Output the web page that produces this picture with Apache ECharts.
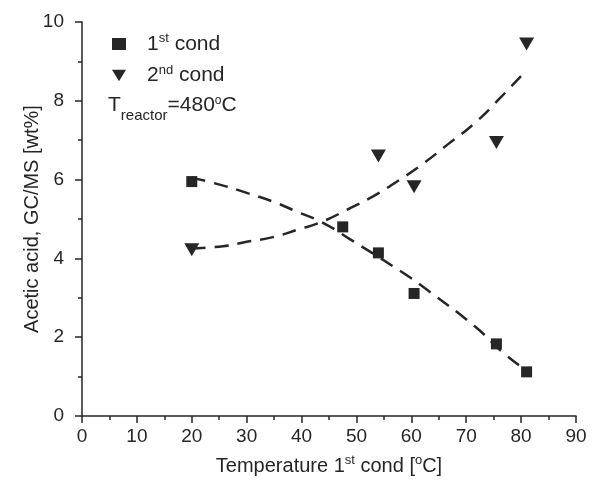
<!DOCTYPE html>
<html>
<head>
<meta charset="utf-8">
<script src="https://cdn.jsdelivr.net/npm/echarts@6/dist/echarts.min.js"></script>
<style>html,body{margin:0;padding:0;background:#fff}#c{width:596px;height:498px}</style>
</head>
<body>
<div id="c"></div>
<script>
// Measured data: 1st condenser (squares)
const cond1X = [20, 47.5, 54, 60.5, 75.5, 81];
const cond1Y = [5.95, 4.8, 4.14, 3.11, 1.83, 1.12];
// 2nd condenser (down triangles)
const cond2X = [20, 54, 60.5, 75.5, 81];
const cond2Y = [4.22, 6.6, 5.82, 6.94, 9.44];
// Dashed trend curves
const fit1X = [20, 25.4, 30.3, 35.2, 39.4, 43.7, 48.8, 58.2, 62.5, 71.6, 76.7, 81];
const fit1Y = [6.05, 5.86, 5.65, 5.42, 5.17, 4.92, 4.49, 3.66, 3.24, 2.27, 1.61, 1.15];
const fit2X = [20, 25.7, 30, 34.8, 39.1, 43.7, 48.2, 53.1, 57.6, 62.2, 66.7, 71.6, 76.1, 81];
const fit2Y = [4.25, 4.31, 4.42, 4.54, 4.72, 4.93, 5.23, 5.58, 5.97, 6.41, 6.9, 7.44, 8.06, 8.78];
// Axis ticks
const xTicks = [0, 10, 20, 30, 40, 50, 60, 70, 80, 90];
const yTicks = [0, 2, 4, 6, 8, 10];

const pair = (xs, ys) => xs.map((x, i) => [x, ys[i]]);
const INK = '#262626';
const TRI = 'path://M0,0 L12,0 L6,10 Z';
const FONT = 'Liberation Sans, Arial, sans-serif';

const chart = echarts.init(document.getElementById('c'));
chart.setOption({
  animation: false,
  backgroundColor: '#fff',
  textStyle: { fontFamily: FONT, color: INK },
  grid: { left: 82, right: 20, top: 22, bottom: 82, containLabel: false },
  legend: {
    orient: 'vertical', left: 107, top: 27, itemGap: 9,
    itemWidth: 14, itemHeight: 12,
    data: ['1st cond', '2nd cond'],
    formatter: n => n === '1st cond' ? '{a|1}{s|st}{a| cond}' : '{a|2}{s|nd}{a| cond}',
    textStyle: {
      padding: [0, 0, 0, 16],
      rich: {
        a: { fontSize: 21, fontFamily: FONT, color: INK, lineHeight: 24 },
        s: { fontSize: 13, fontFamily: FONT, color: INK, lineHeight: 12, verticalAlign: 'top' }
      }
    }
  },
  graphic: [{
    type: 'text', left: 108, top: 95,
    style: {
      text: '{a|T}{b|reactor}{a|=480}{s|o}{a|C}',
      rich: {
        a: { fontSize: 21, fontFamily: FONT, fill: INK, lineHeight: 28, verticalAlign: 'top' },
        b: { fontSize: 15, fontFamily: FONT, fill: INK, lineHeight: 16, verticalAlign: 'bottom' },
        s: { fontSize: 12, fontFamily: FONT, fill: INK, lineHeight: 14, verticalAlign: 'top' }
      }
    }
  }],
  xAxis: {
    type: 'value', min: 0, max: 90, interval: 10,
    name: '{a|Temperature 1}{s|st}{a| cond [}{s|o}{a|C]}',
    nameLocation: 'middle', nameGap: 38,
    nameTextStyle: {
      rich: {
        a: { fontSize: 20, fontFamily: FONT, color: INK, lineHeight: 24 },
        s: { fontSize: 13, fontFamily: FONT, color: INK, lineHeight: 12, verticalAlign: 'top' }
      }
    },
    axisLine: { show: true, onZero: false, lineStyle: { color: INK, width: 1.5 } },
    axisTick: { show: true, inside: false, length: 7, lineStyle: { color: INK, width: 1.5 } },
    minorTick: { show: true, splitNumber: 2, length: 4, lineStyle: { color: INK, width: 1.5 } },
    axisLabel: { fontSize: 19, color: INK, margin: 11, formatter: v => xTicks.includes(v) ? String(v) : '' },
    splitLine: { show: false }
  },
  yAxis: {
    type: 'value', min: 0, max: 10, interval: 2,
    name: 'Acetic acid, GC/MS [wt%]',
    nameLocation: 'middle', nameGap: 40, nameMoveOverlap: false,
    nameTextStyle: { fontSize: 20, color: INK },
    axisLine: { show: true, onZero: false, lineStyle: { color: INK, width: 1.5 } },
    axisTick: { show: true, inside: false, length: 7, lineStyle: { color: INK, width: 1.5 } },
    minorTick: { show: true, splitNumber: 2, length: 4, lineStyle: { color: INK, width: 1.5 } },
    axisLabel: { fontSize: 19, color: INK, margin: 18, formatter: v => yTicks.includes(v) ? String(v) : '' },
    splitLine: { show: false }
  },
  series: [
    {
      name: 'fit1', type: 'line', data: pair(fit1X, fit1Y), smooth: true, symbol: 'none',
      lineStyle: { color: INK, width: 2.5, type: [14, 9] }, z: 1, silent: true
    },
    {
      name: 'fit2', type: 'line', data: pair(fit2X, fit2Y), smooth: true, symbol: 'none',
      lineStyle: { color: INK, width: 2.5, type: [14, 9] }, z: 1, silent: true
    },
    {
      name: '1st cond', type: 'scatter', data: pair(cond1X, cond1Y),
      symbol: 'rect', symbolSize: 11, itemStyle: { color: INK, opacity: 1 }, z: 3
    },
    {
      name: '2nd cond', type: 'scatter', data: pair(cond2X, cond2Y),
      symbol: TRI, symbolSize: [15, 13], itemStyle: { color: INK, opacity: 1 }, z: 3
    }
  ]
});
</script>
</body>
</html>
